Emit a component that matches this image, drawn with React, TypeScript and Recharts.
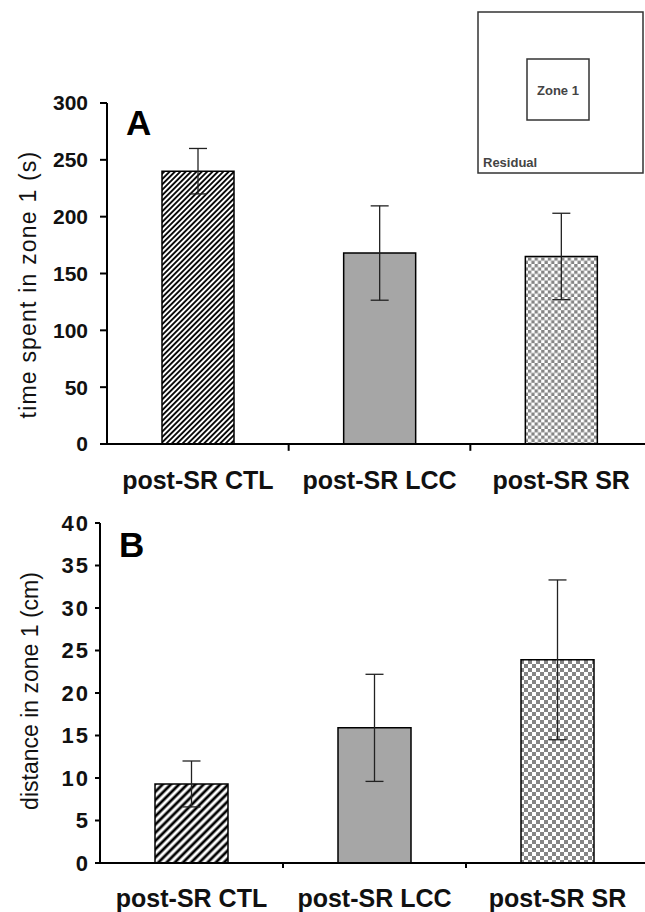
import React from "react";
import { BarChart, Bar, XAxis, YAxis, ErrorBar, Cell, ReferenceLine } from "recharts";

const categories = ["post-SR CTL", "post-SR LCC", "post-SR SR"];
const timeValues = [240, 168, 165];
const timeErrors = [20, 41.5, 38];
const distValues = [9.3, 15.9, 23.9];
const distErrors = [2.7, 6.3, 9.4];
const timeTicks = [0, 50, 100, 150, 200, 250, 300];
const distTicks = [0, 5, 10, 15, 20, 25, 30, 35, 40];

const FONT = "'Liberation Sans', Arial, Helvetica, sans-serif";

const dataA = categories.map((c, i) => ({ name: c, value: timeValues[i], err: timeErrors[i] }));
const dataB = categories.map((c, i) => ({ name: c, value: distValues[i], err: distErrors[i] }));

function Patterns({ id, hatch, check }: { id: string; hatch: number; check: number }) {
  return (
    <defs>
      <pattern id={`hatch${id}`} patternUnits="userSpaceOnUse" width={hatch} height={hatch} patternTransform="rotate(45)">
        <rect x={0} y={0} width={hatch} height={hatch} fill="#fff" />
        <line x1={hatch / 2} y1={-1} x2={hatch / 2} y2={hatch + 1} stroke="#000" strokeWidth={hatch * 0.48} />
      </pattern>
      <pattern id={`check${id}`} patternUnits="userSpaceOnUse" width={check * 2} height={check * 2}>
        <rect x={0} y={0} width={check * 2} height={check * 2} fill="#fff" />
        <rect x={0} y={0} width={check} height={check} fill="#858585" />
        <rect x={check} y={check} width={check} height={check} fill="#858585" />
      </pattern>
    </defs>
  );
}

export default function App() {
  const tickStyle = { fill: "#111", fontFamily: FONT, fontWeight: 700 };
  return (
    <div style={{ position: "absolute", left: 0, top: 0, width: 645, height: 912, overflow: "hidden", background: "#fff" }}>
      <div style={{ position: "absolute", left: 0, top: 0 }}>
        <BarChart width={660} height={500} data={dataA} margin={{ top: 103, right: 8, bottom: 0, left: 0 }}>
          <Patterns id="A" hatch={3.8} check={3.3} />
          <XAxis
            dataKey="name"
            tickLine={false}
            tickSize={0}
            tickMargin={27}
            height={56}
            axisLine={{ stroke: "#000", strokeWidth: 2 }}
            tick={{ ...tickStyle, fontSize: 25 }}
            interval={0}
          />
          <YAxis
            domain={[0, 300]}
            ticks={timeTicks}
            width={107}
            tickSize={7}
            tickMargin={12}
            axisLine={{ stroke: "#000", strokeWidth: 2 }}
            tickLine={{ stroke: "#000", strokeWidth: 2 }}
            tick={{ ...tickStyle, fontSize: 21 }}
            label={{
              value: "time spent in zone 1 (s)",
              angle: -90,
              position: "center",
              dx: -26,
              dy: 11,
              style: { fill: "#111", fontFamily: FONT, fontSize: 23, letterSpacing: 1.2 },
            }}
          />
          {[1, 2].map((i) => (
            <ReferenceLine
              key={i}
              segment={[{ x: categories[i], y: 0 }, { x: categories[i], y: -6 }]}
              position="start"
              ifOverflow="visible"
              stroke="#000"
              strokeWidth={2}
            />
          ))}
          <Bar dataKey="value" barSize={72} stroke="#000" strokeWidth={1.5} isAnimationActive={false}>
            <Cell fill="url(#hatchA)" />
            <Cell fill="#a6a6a6" />
            <Cell fill="url(#checkA)" />
            <ErrorBar dataKey="err" width={9} stroke="#222" strokeWidth={1.3} direction="y" />
          </Bar>
        </BarChart>
      </div>
      <div style={{ position: "absolute", left: 0, top: 500 }}>
        <BarChart width={660} height={412} data={dataB} margin={{ top: 23, right: 11, bottom: 0, left: 0 }}>
          <Patterns id="B" hatch={5.8} check={4} />
          <XAxis
            dataKey="name"
            tickLine={false}
            tickSize={0}
            tickMargin={26}
            height={49}
            axisLine={{ stroke: "#000", strokeWidth: 2 }}
            tick={{ ...tickStyle, fontSize: 25 }}
            interval={0}
          />
          <YAxis
            domain={[0, 40]}
            ticks={distTicks}
            width={100}
            tickSize={5}
            tickMargin={5}
            axisLine={{ stroke: "#000", strokeWidth: 2 }}
            tickLine={{ stroke: "#000", strokeWidth: 2 }}
            tick={{ ...tickStyle, fontSize: 22, letterSpacing: 2 }}
            label={{
              value: "distance in zone 1 (cm)",
              angle: -90,
              position: "center",
              dx: -20,
              dy: -2,
              style: { fill: "#111", fontFamily: FONT, fontSize: 23 },
            }}
          />
          {[1, 2].map((i) => (
            <ReferenceLine
              key={i}
              segment={[{ x: categories[i], y: 0 }, { x: categories[i], y: -0.6 }]}
              position="start"
              ifOverflow="visible"
              stroke="#000"
              strokeWidth={2}
            />
          ))}
          <Bar dataKey="value" barSize={73} stroke="#000" strokeWidth={1.5} isAnimationActive={false}>
            <Cell fill="url(#hatchB)" />
            <Cell fill="#a6a6a6" />
            <Cell fill="url(#checkB)" />
            <ErrorBar dataKey="err" width={9} stroke="#222" strokeWidth={1.3} direction="y" />
          </Bar>
        </BarChart>
      </div>
      <svg width={645} height={912} style={{ position: "absolute", left: 0, top: 0, pointerEvents: "none" }}>
        <text x={126} y={135} fontFamily={FONT} fontWeight={700} fontSize={35} fill="#000">A</text>
        <text x={119} y={557} fontFamily={FONT} fontWeight={700} fontSize={35} fill="#000">B</text>
        <rect x={478} y={12} width={165} height={161} fill="#fff" stroke="#333" strokeWidth={1.5} />
        <rect x={527} y={59} width={62} height={61} fill="#fff" stroke="#333" strokeWidth={1.5} />
        <text x={558} y={95} textAnchor="middle" fontFamily={FONT} fontWeight={700} fontSize={13} fill="#444">Zone 1</text>
        <text x={483} y={167} fontFamily={FONT} fontWeight={700} fontSize={13} fill="#444">Residual</text>
      </svg>
    </div>
  );
}
